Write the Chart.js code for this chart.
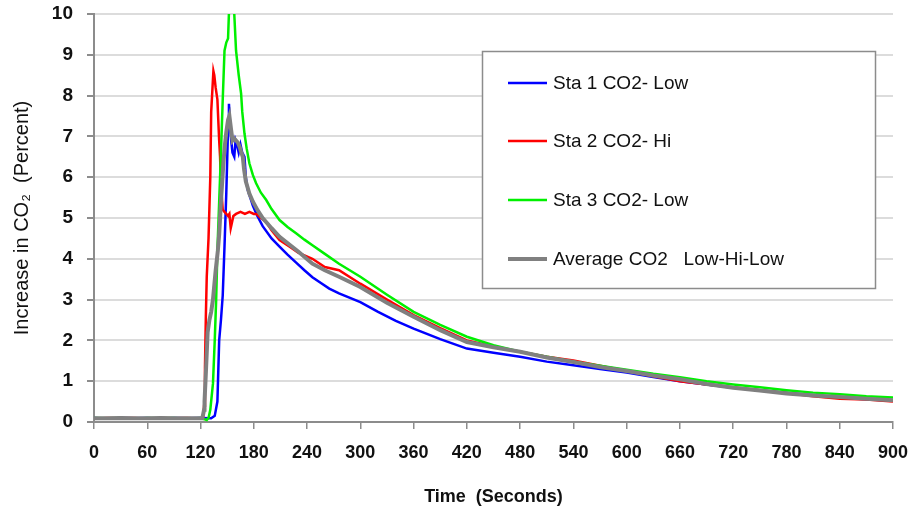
<!DOCTYPE html>
<html>
<head>
<meta charset="utf-8">
<script src="https://cdn.jsdelivr.net/npm/chart.js@4"></script>
<style>
  html, body { margin: 0; padding: 0; background: #fff; }
  #wrap { width: 915px; height: 516px; }
</style>
</head>
<body>
<div id="wrap"><canvas id="co2Chart" width="915" height="516"></canvas></div>
<script>
// Sta 1 CO2- Low (blue)
const sta1Time = [0, 15, 30, 45, 60, 75, 90, 105, 120, 132, 136, 139, 141, 143, 145, 147, 149, 151, 152, 153, 154.5, 156, 158, 159.5, 161, 163, 165, 167, 169.5, 171, 173, 176, 179, 184, 190, 200, 209, 218, 228, 237, 246, 256, 265, 276, 300, 320, 340, 360, 390, 420, 450, 480, 510, 540, 570, 600, 630, 660, 690, 720, 750, 780, 810, 840, 870, 900];
const sta1Vals = [0.1, 0.08, 0.1, 0.09, 0.1, 0.08, 0.1, 0.09, 0.1, 0.09, 0.15, 0.5, 2.0, 2.5, 3.1, 4.3, 5.6, 7.2, 7.8, 7.4, 6.9, 6.6, 6.5, 6.9, 6.8, 6.6, 6.8, 6.6, 6.5, 6.0, 5.7, 5.5, 5.3, 5.05, 4.8, 4.5, 4.3, 4.1, 3.9, 3.72, 3.55, 3.4, 3.27, 3.15, 2.94, 2.7, 2.48, 2.29, 2.03, 1.8, 1.7, 1.6, 1.48, 1.39, 1.3, 1.21, 1.1, 1.0, 0.92, 0.84, 0.78, 0.72, 0.66, 0.6, 0.56, 0.52];

// Sta 2 CO2- Hi (red)
const sta2Time = [0, 15, 30, 45, 60, 75, 90, 105, 120, 123, 124, 125, 126, 127, 129, 131, 132, 133, 134.5, 135.5, 137, 139, 141, 142, 143, 145, 147, 149, 151, 152.5, 154, 155, 157, 160, 165, 170, 175, 180, 183, 188, 194, 200, 209, 220, 230, 246, 260, 276, 300, 330, 360, 390, 420, 450, 480, 510, 540, 570, 600, 630, 660, 690, 720, 750, 780, 810, 840, 870, 900];
const sta2Vals = [0.08, 0.1, 0.09, 0.1, 0.08, 0.1, 0.09, 0.1, 0.08, 0.1, 0.4, 1.35, 2.6, 3.56, 4.5, 6.0, 7.6, 8.0, 8.6, 8.5, 8.2, 7.9, 6.9, 6.5, 5.8, 5.2, 5.15, 5.1, 5.05, 5.1, 4.75, 4.85, 5.05, 5.1, 5.15, 5.1, 5.15, 5.1, 5.1, 5.0, 4.9, 4.7, 4.46, 4.3, 4.15, 4.0, 3.8, 3.72, 3.39, 3.0, 2.62, 2.3, 2.0, 1.85, 1.72, 1.6, 1.51, 1.38, 1.25, 1.12, 1.0, 0.92, 0.85, 0.78, 0.71, 0.63, 0.57, 0.55, 0.5];

// Sta 3 CO2- Low (green)
const sta3Time = [0, 15, 30, 45, 60, 75, 90, 105, 120, 127, 129, 131, 134, 136, 137.6, 139, 141, 143, 145, 147, 149, 151, 152.6, 155, 157, 158, 160, 163, 165.7, 167, 169.5, 172, 175, 179, 182.6, 188, 194, 200, 209, 218, 228, 237, 246, 260, 276, 300, 330, 360, 390, 420, 450, 480, 510, 540, 570, 600, 630, 660, 690, 720, 750, 780, 810, 840, 870, 900];
const sta3Vals = [0.1, 0.09, 0.1, 0.08, 0.1, 0.09, 0.1, 0.08, 0.1, 0.05, 0.1, 0.3, 0.94, 2.0, 3.0, 4.2, 5.4, 6.6, 7.9, 9.1, 9.3, 9.4, 10.4, 10.5, 10.4, 10.0, 9.1, 8.5, 8.05, 7.6, 7.07, 6.7, 6.34, 6.05, 5.85, 5.62, 5.44, 5.22, 4.95, 4.78, 4.62, 4.47, 4.33, 4.12, 3.88, 3.56, 3.12, 2.7, 2.38, 2.09, 1.88, 1.72, 1.6, 1.48, 1.38, 1.28, 1.18, 1.1, 1.0, 0.92, 0.85, 0.78, 0.72, 0.68, 0.63, 0.6];

// Average CO2 Low-Hi-Low (grey)
const avgTime = [0, 15, 30, 45, 60, 75, 90, 105, 122, 124, 124.5, 126, 128, 130, 132, 134, 135.7, 137, 139.5, 141, 143, 145, 147, 149, 151, 152.5, 154.5, 156, 158, 160, 162, 164, 166, 167.6, 169, 171, 175, 179, 184, 190, 200, 209, 220, 230, 246, 260, 276, 300, 330, 360, 390, 420, 450, 480, 510, 540, 570, 600, 630, 660, 690, 720, 750, 780, 810, 840, 870, 900];
const avgVals = [0.09, 0.09, 0.1, 0.09, 0.09, 0.1, 0.09, 0.09, 0.09, 0.3, 0.5, 1.2, 2.2, 2.5, 2.7, 3.0, 3.4, 3.7, 4.2, 4.6, 5.4, 6.1, 6.7, 7.1, 7.4, 7.5, 7.15, 6.9, 6.95, 6.9, 6.85, 6.75, 6.6, 6.5, 6.2, 5.9, 5.6, 5.4, 5.2, 5.0, 4.75, 4.54, 4.35, 4.18, 3.88, 3.72, 3.56, 3.31, 2.92, 2.58, 2.25, 1.96, 1.83, 1.72, 1.58, 1.47, 1.35, 1.25, 1.14, 1.05, 0.93, 0.84, 0.77, 0.7, 0.65, 0.61, 0.57, 0.53];

const seriesLabels = ['Sta 1 CO2- Low', 'Sta 2 CO2- Hi', 'Sta 3 CO2- Low', 'Average CO2   Low-Hi-Low'];
const xTicks = [0, 60, 120, 180, 240, 300, 360, 420, 480, 540, 600, 660, 720, 780, 840, 900];
const yTicks = [0, 1, 2, 3, 4, 5, 6, 7, 8, 9, 10];

function toPoints(times, vals) {
  return times.map((t, i) => ({ x: t, y: vals[i] }));
}

// legend drawn inside the plot like the original
const boxLegend = {
  id: 'boxLegend',
  afterDraw(chart) {
    const ctx = chart.ctx;
    ctx.save();
    ctx.fillStyle = '#fff';
    ctx.fillRect(482, 51, 393, 237);
    ctx.strokeStyle = '#8c8c8c';
    ctx.lineWidth = 1.5;
    ctx.strokeRect(482.5, 51.5, 393, 237);
    const rows = [83, 141, 200, 259];
    chart.data.datasets.forEach((ds, i) => {
      const y = rows[i];
      ctx.strokeStyle = ds.borderColor;
      ctx.lineWidth = ds.borderWidth;
      ctx.beginPath();
      ctx.moveTo(508, y);
      ctx.lineTo(547, y);
      ctx.stroke();
      ctx.fillStyle = '#111';
      ctx.font = '19px "Liberation Sans", Arial, sans-serif';
      ctx.textBaseline = 'middle';
      ctx.textAlign = 'left';
      ctx.fillText(ds.label, 553, y + 1);
    });
    ctx.restore();
  }
};

const ctx = document.getElementById('co2Chart').getContext('2d');
new Chart(ctx, {
  type: 'line',
  data: {
    datasets: [
      { label: seriesLabels[0], data: toPoints(sta1Time, sta1Vals), borderColor: '#0000ff', borderWidth: 2.5, order: 3 },
      { label: seriesLabels[1], data: toPoints(sta2Time, sta2Vals), borderColor: '#ff0000', borderWidth: 2.5, order: 2 },
      { label: seriesLabels[2], data: toPoints(sta3Time, sta3Vals), borderColor: '#00f000', borderWidth: 2.5, order: 1 },
      { label: seriesLabels[3], data: toPoints(avgTime, avgVals), borderColor: '#808080', borderWidth: 4, order: 0 }
    ]
  },
  options: {
    responsive: false,
    animation: false,
    events: [],
    elements: { point: { radius: 0 }, line: { tension: 0 } },
    layout: { padding: { left: 0, right: 22, top: 14, bottom: 0 } },
    plugins: { legend: { display: false }, tooltip: { enabled: false } },
    scales: {
      x: {
        type: 'linear',
        min: 0,
        max: 900,
        afterBuildTicks: s => { s.ticks = xTicks.map(v => ({ value: v })); },
        afterFit: s => { s.height = 94; s.paddingLeft = 0; s.paddingRight = 0; },
        grid: { drawOnChartArea: false, drawTicks: true, tickLength: 7, tickColor: '#8c8c8c', lineWidth: 1.5 },
        border: { color: '#8c8c8c', width: 2 },
        ticks: {
          color: '#111',
          padding: 13,
          maxRotation: 0,
          autoSkip: false,
          font: { family: '"Liberation Sans Narrow", "Arial Narrow", "Liberation Sans", Arial, sans-serif', size: 18, weight: 'bold' }
        },
        title: {
          display: true,
          text: 'Time  (Seconds)',
          color: '#111',
          padding: { top: 12, bottom: 8 },
          font: { family: '"Liberation Sans", Arial, sans-serif', size: 18, weight: 'bold' }
        }
      },
      y: {
        min: 0,
        max: 10,
        afterBuildTicks: s => { s.ticks = yTicks.map(v => ({ value: v })); },
        afterFit: s => { s.width = 94; s.paddingTop = 0; s.paddingBottom = 0; },
        grid: { color: '#dcdcdc', lineWidth: 2, drawTicks: true, tickLength: 7, tickColor: '#8c8c8c' },
        border: { color: '#8c8c8c', width: 2 },
        ticks: {
          color: '#111',
          padding: 14,
          font: { family: '"Liberation Sans", Arial, sans-serif', size: 19, weight: 'bold' }
        },
        title: {
          display: true,
          text: 'Increase in CO\u2082  (Percent)',
          color: '#111',
          padding: { top: 10, bottom: 0 },
          font: { family: '"Liberation Sans", Arial, sans-serif', size: 20 }
        }
      }
    }
  },
  plugins: [boxLegend]
});
</script>
</body>
</html>
